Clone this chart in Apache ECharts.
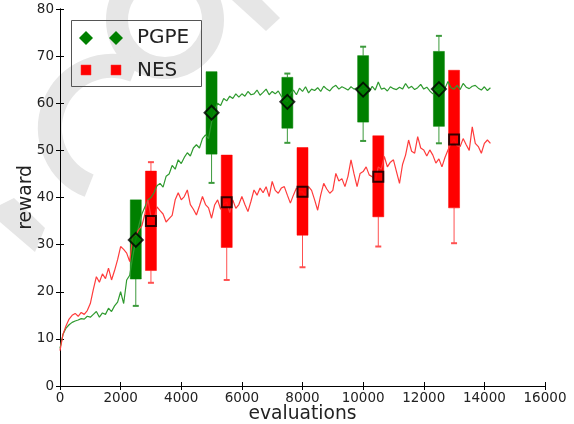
<!DOCTYPE html>
<html><head><meta charset="utf-8">
<script src="https://cdn.jsdelivr.net/npm/echarts@6/dist/echarts.min.js"></script>
<style>html,body{margin:0;padding:0;background:#fff}#c{width:574px;height:424px}</style>
</head><body><div id="c"></div>
<script>
// evaluation step between consecutive curve samples
const evalStep = 100;
const xTicks = [0, 2000, 4000, 6000, 8000, 10000, 12000, 14000, 16000];
const yTicks = [0, 10, 20, 30, 40, 50, 60, 70, 80];

const pgpeCurve = [
  8, 11, 12.3, 13, 13.5, 13.8, 14, 14.3, 14.2, 14.8,
  14.6, 15.2, 15.8, 14.6, 15.5, 15.2, 16.5, 15.8, 17, 17.8,
  20, 17.5, 22.5, 23.5, 27.5, 31, 34, 36.5, 38, 39.5,
  40, 41, 42.5, 43, 42.2, 44.5, 45, 46.8, 46, 48,
  47.2, 48.5, 49.5, 48.8, 50.5, 51.2, 50.5, 52.5, 53.3, 52.5,
  56, 58.5, 60, 59.5, 61, 60.5, 61.5, 61, 62, 61.3,
  62, 61.5, 62.5, 61.8, 62, 62.8, 61.7, 62.3, 63, 61.8,
  62.5, 62, 62.6, 61.5, 60.8, 60.3, 62, 62.8, 61.8, 63.2,
  62.5, 63.5, 62.2, 63, 62.7, 63.3, 62.5, 63.6, 63, 62.6,
  63.4, 63.8, 63, 63.5, 63.2, 62.8, 63.5, 63, 63.3, 62.8,
  63, 63.3, 62.4, 63.6, 62.8, 64.5, 63, 63.2, 62.6, 63.5,
  63.1, 62.9, 63.4, 63, 64.2, 63.2, 63.6, 62.9, 63.3, 64,
  63, 63.4, 62.6, 62, 62.8, 63, 63.5, 63.2, 64.6, 63.3,
  63, 63.8, 62.9, 64.2, 63.4, 63.1, 63.6, 63.8, 63.2, 62.8,
  63.5, 62.7, 63.3
];
const nesCurve = [
  7.5, 11, 12.8, 14.2, 15, 15.4, 14.8, 15.6, 15.2, 16,
  17.5, 20.5, 23.2, 22, 23.8, 22.8, 25, 22.5, 24.5, 26.8,
  29.6, 29, 28.2, 26.4, 31.7, 32, 33.2, 34, 36.5, 39.5,
  36, 35.2, 38, 37.2, 36.5, 34.8, 35.5, 36.2, 39.5, 41,
  39.5, 40.2, 41.6, 38.5, 37.5, 36.3, 38.2, 40.2, 38.5, 37.8,
  35.6, 38.4, 39.5, 37.5, 38.6, 39, 36.8, 39.5, 37.7, 38.5,
  40.2, 38.5, 37, 39.2, 41.6, 40.5, 42, 41, 42.3, 40.2,
  43.4, 41.5, 40.9, 42, 42.3, 40.5, 38.8, 40.5, 42, 41.2,
  41.2, 40.2, 42.3, 41.5, 39.5, 37.3, 40.5, 43, 41.8, 40.9,
  41.5, 45.1, 43.5, 44, 42.3, 44.5, 48, 45, 42.3, 45.1,
  45.5, 46.5, 44.8, 44.4, 43.5, 46.5, 46, 48.7, 46.5, 47.5,
  48, 45.5, 43, 47, 49, 52.2, 49.8, 49.4, 52.9, 50.5,
  50.1, 48.8, 50.1, 49, 47.3, 48.2, 46.5, 48.5, 50.1, 51.5,
  52.3, 51, 50.8, 52.5, 51.2, 50, 55, 51.5, 50.8, 49.4,
  51.5, 52.2, 51.5
];

const pgpeX   = [2500, 5000, 7500, 10000, 12500];
const pgpeMin = [17.0, 43.1, 51.6, 52.0, 51.5];
const pgpeQ1  = [22.7, 49.2, 54.7, 56.0, 55.1];
const pgpeMed = [31.0, 58.0, 60.3, 62.9, 63.0];
const pgpeQ3  = [39.5, 66.7, 65.5, 70.1, 71.0];
const pgpeMax = [39.5, 66.7, 66.3, 72.0, 74.3];

const nesX   = [3000, 5500, 8000, 10500, 13000];
const nesMin = [21.9, 22.5, 25.2, 29.6, 30.3];
const nesQ1  = [24.5, 29.4, 32.0, 35.9, 37.8];
const nesMed = [35.0, 39.0, 41.2, 44.4, 52.3];
const nesQ3  = [45.6, 49.0, 50.6, 53.1, 67.0];
const nesMax = [47.5, 49.0, 50.6, 53.1, 67.0];

const FONT = 'DejaVu Sans';
const curve = arr => arr.map((v, i) => [i * evalStep, v]);
const boxes = (xs, mn, q1, md, q3, mx) => xs.map((x, i) => [x, mn[i], q1[i], md[i], q3[i], mx[i]]);

function boxRenderer(fill, whisk) {
  return function (params, api) {
    const x = api.value(0), mn = api.value(1), q1 = api.value(2), q3 = api.value(4), mx = api.value(5);
    const pQ1 = api.coord([x, q1]), pQ3 = api.coord([x, q3]);
    const pMin = api.coord([x, mn]), pMax = api.coord([x, mx]);
    const w = 11, cw = 3;
    const ch = [];
    if (mn < q1) {
      ch.push({type: 'line', shape: {x1: pQ1[0], y1: pQ1[1], x2: pMin[0], y2: pMin[1]}, style: {stroke: whisk, lineWidth: 1}});
      ch.push({type: 'line', shape: {x1: pMin[0] - cw, y1: pMin[1], x2: pMin[0] + cw, y2: pMin[1]}, style: {stroke: whisk, lineWidth: 2}});
    }
    if (mx > q3) {
      ch.push({type: 'line', shape: {x1: pQ3[0], y1: pQ3[1], x2: pMax[0], y2: pMax[1]}, style: {stroke: whisk, lineWidth: 1}});
      ch.push({type: 'line', shape: {x1: pMax[0] - cw, y1: pMax[1], x2: pMax[0] + cw, y2: pMax[1]}, style: {stroke: whisk, lineWidth: 2}});
    }
    ch.push({type: 'rect', shape: {x: pQ3[0] - w / 2, y: pQ3[1], width: w, height: pQ1[1] - pQ3[1]}, style: {fill: fill, stroke: fill, lineWidth: 0.5}});
    return {type: 'group', children: ch};
  };
}

const axisCommon = {
  type: 'value',
  axisLine: {show: true, lineStyle: {color: '#000', width: 1}},
  axisTick: {show: true, inside: true, length: 4, lineStyle: {color: '#000'}},
  splitLine: {show: false}
};

const wm = '#e6e6e6';
const chart = echarts.init(document.getElementById('c'), null, {renderer: 'canvas'});
chart.setOption({
  animation: false,
  backgroundColor: '#fff',
  grid: {left: 60, right: 29, top: 9, bottom: 38, containLabel: false, outerBoundsMode: 'none'},
  xAxis: [
    Object.assign({}, axisCommon, {
      min: 0, max: 16000, interval: 2000, position: 'bottom',
      axisLabel: {fontFamily: FONT, fontSize: 13.5, color: '#222', margin: 5, formatter: v => String(v)},
      name: 'evaluations', nameLocation: 'middle', nameGap: 19, nameMoveOverlap: false,
      nameTextStyle: {fontFamily: FONT, fontSize: 18.7, color: '#222'}
    }),
    Object.assign({}, axisCommon, {min: 0, max: 16000, interval: 2000, position: 'top', axisLabel: {show: false}})
  ],
  yAxis: [
    Object.assign({}, axisCommon, {
      min: 0, max: 80, interval: 10, position: 'left',
      axisLabel: {fontFamily: FONT, fontSize: 13.5, color: '#222', margin: 6, formatter: v => String(v)},
      name: 'reward', nameLocation: 'middle', nameGap: 24, nameMoveOverlap: false,
      nameTextStyle: {fontFamily: FONT, fontSize: 18.7, color: '#222'}
    }),
    Object.assign({}, axisCommon, {min: 0, max: 80, interval: 10, position: 'right', axisLabel: {show: false}})
  ],
  graphic: [
    // faint watermark shapes
    {type: 'arc', z: -10, shape: {cx: 165, cy: 20, r: 48, startAngle: 0, endAngle: Math.PI * 2}, style: {stroke: wm, lineWidth: 22, fill: null}},
    {type: 'arc', z: -10, shape: {cx: 112, cy: 128, r: 62, startAngle: Math.PI * 0.62, endAngle: Math.PI * 1.62}, style: {stroke: wm, lineWidth: 24, fill: null}},
    {type: 'polygon', z: -10, shape: {points: [[0, 205], [14, 198], [45, 228], [35, 252], [0, 222]]}, style: {fill: wm}},
    {type: 'polygon', z: -10, shape: {points: [[232, 0], [262, 0], [280, 18], [266, 31]]}, style: {fill: wm}},
    // legend
    {type: 'rect', z: 50, shape: {x: 71.5, y: 20.5, width: 130, height: 66}, style: {fill: null, stroke: '#555', lineWidth: 1}},
    {type: 'polygon', z: 50, shape: {points: [[86, 31], [93, 38], [86, 45], [79, 38]]}, style: {fill: '#008000'}},
    {type: 'polygon', z: 50, shape: {points: [[116, 31], [123, 38], [116, 45], [109, 38]]}, style: {fill: '#008000'}},
    {type: 'text', z: 50, x: 137, y: 38, style: {text: 'PGPE', fontFamily: FONT, fontSize: 20, fill: '#222', verticalAlign: 'middle'}},
    {type: 'rect', z: 50, shape: {x: 81, y: 65, width: 10, height: 10}, style: {fill: '#ff0000', stroke: '#ff3030', lineWidth: 0.5}},
    {type: 'rect', z: 50, shape: {x: 111, y: 65, width: 10, height: 10}, style: {fill: '#ff0000', stroke: '#ff3030', lineWidth: 0.5}},
    {type: 'text', z: 50, x: 137, y: 71, style: {text: 'NES', fontFamily: FONT, fontSize: 20, fill: '#222', verticalAlign: 'middle'}}
  ],
  series: [
    {type: 'custom', name: 'PGPE box', z: 2, renderItem: boxRenderer('#008000', '#3c9a3c'), data: boxes(pgpeX, pgpeMin, pgpeQ1, pgpeMed, pgpeQ3, pgpeMax), encode: {x: 0, y: [1, 2, 3, 4, 5]}},
    {type: 'custom', name: 'NES box', z: 2, renderItem: boxRenderer('#ff0000', '#ff5050'), data: boxes(nesX, nesMin, nesQ1, nesMed, nesQ3, nesMax), encode: {x: 0, y: [1, 2, 3, 4, 5]}},
    {type: 'line', name: 'PGPE curve', z: 3, data: curve(pgpeCurve), showSymbol: false, lineStyle: {color: '#2f9a2f', width: 1.2}},
    {type: 'line', name: 'NES curve', z: 3, data: curve(nesCurve), showSymbol: false, lineStyle: {color: '#ff3b3b', width: 1.2}},
    {type: 'scatter', name: 'PGPE', z: 4, symbol: 'diamond', symbolSize: 14, data: pgpeX.map((x, i) => [x, pgpeMed[i]]), itemStyle: {color: '#008000', borderColor: '#000', borderWidth: 2}},
    {type: 'scatter', name: 'NES', z: 4, symbol: 'rect', symbolSize: 10, data: nesX.map((x, i) => [x, nesMed[i]]), itemStyle: {color: '#ff0000', borderColor: '#000', borderWidth: 2}}
  ]
});
</script>
</body></html>
